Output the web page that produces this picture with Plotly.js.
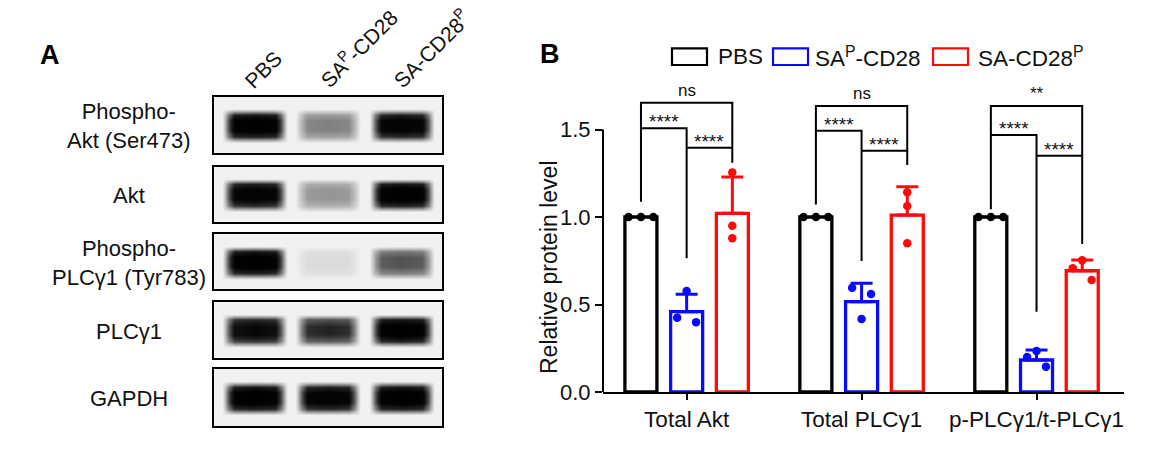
<!DOCTYPE html>
<html>
<head>
<meta charset="utf-8">
<script src="https://cdn.plot.ly/plotly-3.0.1.min.js"></script>
<style>
  html, body { margin: 0; padding: 0; background: #fff; }
</style>
</head>
<body>
<div id="chart" style="width:1161px;height:454px;"></div>
<script>
// ---- panel B data ----
const categories = ['Total Akt', 'Total PLCγ1', 'p-PLCγ1/t-PLCγ1'];
const groupNames = ['PBS', 'SA<sup>P</sup>-CD28', 'SA-CD28<sup>P</sup>'];

const pbsMean = [1.0, 1.0, 1.0];
const pbsSD = [0, 0, 0];
const pbsPoints = [[1.0, 1.0, 1.0], [1.0, 1.0, 1.0], [1.0, 1.0, 1.0]];

const sapMean = [0.459, 0.516, 0.183];
const sapSD = [0.099, 0.105, 0.057];
const sapPoints = [[0.425, 0.577, 0.398], [0.596, 0.417, 0.56], [0.2, 0.234, 0.145]];

const saMean = [1.021, 1.011, 0.693];
const saSD = [0.207, 0.162, 0.061];
const saPoints = [[0.95, 0.878, 1.255], [1.141, 1.063, 0.85], [0.707, 0.753, 0.64]];

// which side of the bar each dot sits on (-1 left, 0 middle, 1 right)
const pbsSlots = [[-1, 0, 1], [-1, 0, 1], [-1, 0, 1]];
const sapSlots = [[-1, 0, 1], [-1, 0, 1], [-1, 0, 1]];
const saSlots = [[0, 0, 0], [0, 0, 0], [-1, 0, 1]];

// significance brackets
const sigOuter = ['ns', 'ns', '**'];
const sigLeft = ['****', '****', '****'];
const sigRight = ['****', '****', '****'];
const outerY = [1.653, 1.634, 1.634];
const leftY = [1.507, 1.493, 1.469];
const rightY = [1.396, 1.379, 1.35];
const legPbs = [1.087, 1.072, 1.044];
const legSap = [0.764, 0.749, 0.459];
const legSa = [1.31, 1.297, 0.846];

// ---- panel A data ----
const blotRows = ['Phospho-<br>Akt (Ser473)', 'Akt', 'Phospho-<br>PLCγ1 (Tyr783)', 'PLCγ1', 'GAPDH'];
const lanes = ['PBS', 'SA<sup>P</sup>-CD28', 'SA-CD28<sup>P</sup>'];
const bandIntensity = [
  [1.0, 0.45, 0.95],
  [0.95, 0.38, 1.0],
  [1.0, 0.1, 0.6],
  [0.9, 0.75, 1.0],
  [1.0, 0.95, 1.0]
];

// ---- layout helpers ----
const W = 1161, H = 454;
const px = v => v / W;
const py = v => 1 - v / H;
const FONT = 'Liberation Sans, Arial, sans-serif';

const BLUE = '#0a0aff', RED = '#ff0a0a', BLACK = '#000000';
const slot = 0.261;                 // bar spacing inside a group
const groupOffset = [-slot, 0, slot];

const series = [
  { name: groupNames[0], mean: pbsMean, sd: pbsSD, pts: pbsPoints, slots: pbsSlots, color: BLACK, step: 0.071 },
  { name: groupNames[1], mean: sapMean, sd: sapSD, pts: sapPoints, slots: sapSlots, color: BLUE, step: 0.054 },
  { name: groupNames[2], mean: saMean, sd: saSD, pts: saPoints, slots: saSlots, color: RED, step: 0.054 }
];

const traces = [];
const catIdx = categories.map((c, i) => i);

series.forEach((s, k) => {
  traces.push({
    type: 'bar', x: catIdx, y: s.mean, name: s.name,
    marker: { color: 'rgba(255,255,255,0)', line: { color: s.color, width: 3.3 } },
    error_y: {
      type: 'data', symmetric: false, array: s.sd, arrayminus: s.sd.map(() => 0),
      color: s.color, thickness: 3, width: 11, visible: k > 0
    },
    hoverinfo: 'skip'
  });
});

series.forEach((s, k) => {
  const xs = [], ys = [];
  s.pts.forEach((arr, c) => arr.forEach((v, j) => {
    xs.push(c + groupOffset[k] + s.slots[c][j] * s.step);
    ys.push(v);
  }));
  traces.push({
    type: 'scatter', mode: 'markers', x: xs, y: ys, cliponaxis: false,
    marker: { color: s.color, size: 8.5 }, hoverinfo: 'skip', showlegend: false
  });
});

// bracket lines
const bx = [], by = [];
categories.forEach((c, i) => {
  const a = i + groupOffset[0], b = i + groupOffset[1], d = i + groupOffset[2];
  bx.push(a, a, d, d, null); by.push(legPbs[i], outerY[i], outerY[i], legSa[i], null);
  bx.push(a, b, b, null); by.push(leftY[i], leftY[i], legSap[i], null);
  bx.push(b, d, null); by.push(rightY[i], rightY[i], null);
});
traces.push({
  type: 'scatter', mode: 'lines', x: bx, y: by, line: { color: BLACK, width: 2 },
  hoverinfo: 'skip', showlegend: false, cliponaxis: false
});

// blots as smoothed heatmaps
const laneProfile = [[-0.44, 0], [-0.36, 0.6], [-0.28, 0.95], [0, 1], [0.28, 0.95], [0.36, 0.6], [0.44, 0]];
const rowProfile = [[-1.05, 0], [-0.62, 0], [-0.4, 0.75], [-0.15, 1], [0.15, 1], [0.38, 0.8], [0.58, 0], [1.05, 0]];
const blotScale = [[0, '#f1f1f1'], [0.25, '#bababa'], [0.5, '#727272'], [0.75, '#222222'], [0.9, '#060606'], [1, '#000000']];

blotRows.forEach((row, r) => {
  const cols = [{ x: -0.65, lane: 0, m: 0 }];
  lanes.forEach((ln, l) => laneProfile.forEach(p => cols.push({ x: l + p[0], lane: l, m: p[1] })));
  cols.push({ x: 2.65, lane: 2, m: 0 });
  const z = rowProfile.map(rp => cols.map(c => c.m * rp[1] * bandIntensity[r][c.lane]));
  traces.push({
    type: 'heatmap', x: cols.map(c => c.x), y: rowProfile.map(rp => rp[0]), z: z,
    xaxis: 'x' + (r + 2), yaxis: 'y' + (r + 2), zmin: 0, zmax: 1, zsmooth: 'best',
    colorscale: blotScale, showscale: false, hoverinfo: 'skip'
  });
});

// ---- layout ----
const blotTop = [96.7, 166.7, 234.3, 302.3, 369];
const blotBottom = [153.3, 221.7, 289.3, 357.7, 426];
const yTop = 80, yZero = 392, unit = 175;

const layout = {
  width: W, height: H,
  margin: { l: 0, r: 0, t: 0, b: 0 },
  paper_bgcolor: '#ffffff', plot_bgcolor: 'rgba(0,0,0,0)',
  font: { family: FONT, color: '#111' },
  showlegend: false,
  barmode: 'group', bargap: 0.216, bargroupgap: 0.3,
  xaxis: {
    domain: [px(603), px(1124)], range: [-0.478, 2.5],
    tickvals: catIdx, ticktext: categories,
    ticks: 'outside', ticklen: 6, tickwidth: 2, tickcolor: BLACK,
    showline: true, linecolor: BLACK, linewidth: 2,
    showgrid: false, zeroline: false,
    tickfont: { size: 22.5, color: '#111' }
  },
  yaxis: {
    domain: [py(yZero), py(yTop)], range: [0, (yZero - yTop) / unit],
    tickvals: [0, 0.5, 1, 1.5], ticktext: ['0.0', '0.5', '1.0', '1.5'],
    ticks: 'outside', ticklen: 7, tickwidth: 2, tickcolor: BLACK,
    showline: false, showgrid: false, zeroline: false,
    tickfont: { size: 22, color: '#111' }
  },
  shapes: [
    { type: 'line', xref: 'paper', yref: 'y', x0: px(603), x1: px(603), y0: 0, y1: 1.5, line: { color: BLACK, width: 2 } }
  ],
  annotations: [
    { text: '<b>A</b>', xref: 'paper', yref: 'paper', x: px(38), y: py(37.5), showarrow: false, font: { size: 27, color: '#000' } },
    { text: '<b>B</b>', xref: 'paper', yref: 'paper', x: px(550), y: py(37), showarrow: false, font: { size: 27, color: '#000' } },
    { text: 'Relative protein level', xref: 'paper', yref: 'paper', x: px(549), y: py(267),
      xanchor: 'center', yanchor: 'middle', textangle: -90, showarrow: false, font: { size: 23, color: '#111' } }
  ]
};

// blot axes, row labels
blotRows.forEach((row, r) => {
  const n = r + 2;
  layout['xaxis' + n] = {
    domain: [px(214.3), px(442.3)], range: [-0.546, 2.552], anchor: 'y' + n,
    showline: true, mirror: true, linecolor: BLACK, linewidth: 2,
    ticks: '', showticklabels: false, showgrid: false, zeroline: false
  };
  layout['yaxis' + n] = {
    domain: [py(blotBottom[r]), py(blotTop[r])], range: [-1, 1], anchor: 'x' + n,
    showline: true, mirror: true, linecolor: BLACK, linewidth: 2,
    ticks: '', showticklabels: false, showgrid: false, zeroline: false
  };
  layout.annotations.push({
    text: row, xref: 'paper', yref: 'paper', x: px(128.5), y: py((blotTop[r] + blotBottom[r]) / 2 + 1),
    xanchor: 'center', yanchor: 'middle',
    showarrow: false, align: 'center', font: { size: 22, color: '#111' }
  });
});

// lane labels
lanes.forEach((ln, l) => {
  layout.annotations.push({
    text: ln, xref: 'x2', yref: 'paper', x: l, y: py(95), xanchor: 'left', yanchor: 'bottom',
    xshift: -17, textangle: -45, showarrow: false, font: { size: 21, color: '#111' }
  });
});

// legend (boxes + labels)
const legendBox = [672, 773, 933];
const legendText = [716, 813, 976];
series.forEach((s, k) => {
  layout.shapes.push({
    type: 'rect', xref: 'paper', yref: 'paper',
    x0: px(legendBox[k]), x1: px(legendBox[k] + 35), y0: py(65), y1: py(48.3),
    line: { color: s.color, width: 2.2 }, fillcolor: 'rgba(0,0,0,0)'
  });
  layout.annotations.push({
    text: s.name, xref: 'paper', yref: 'paper', x: px(legendText[k]), y: py(56.5),
    xanchor: 'left', yanchor: 'middle', showarrow: false, font: { size: 22.5, color: '#111' }
  });
});

// significance labels
categories.forEach((c, i) => {
  const a = i + groupOffset[0], b = i + groupOffset[1], d = i + groupOffset[2];
  layout.annotations.push(
    { text: sigOuter[i], x: (a + d) / 2, y: outerY[i], xref: 'x', yref: 'y', yanchor: 'bottom', yshift: 1, showarrow: false, font: { size: 17, color: '#111' } },
    { text: sigLeft[i], x: (a + b) / 2, y: leftY[i], xref: 'x', yref: 'y', yanchor: 'bottom', yshift: -6, showarrow: false, font: { size: 19, color: '#111' } },
    { text: sigRight[i], x: (b + d) / 2, y: rightY[i], xref: 'x', yref: 'y', yanchor: 'bottom', yshift: -6, showarrow: false, font: { size: 19, color: '#111' } }
  );
});

Plotly.newPlot('chart', traces, layout, { staticPlot: true, displayModeBar: false });
</script>
</body>
</html>
